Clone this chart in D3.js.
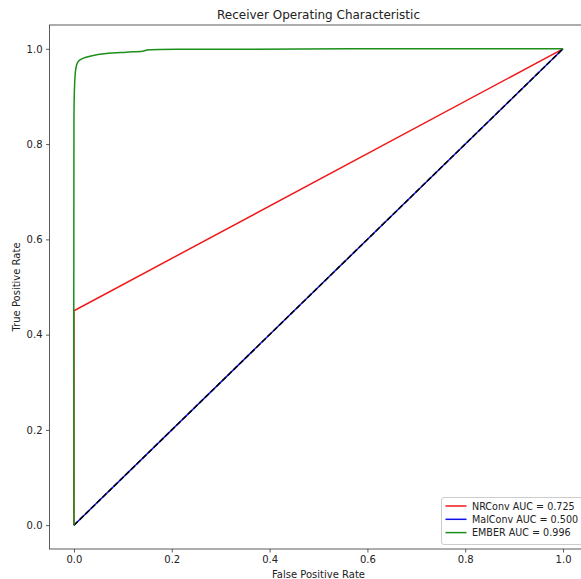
<!DOCTYPE html>
<html>
<head>
<meta charset="utf-8">
<script src="https://cdn.jsdelivr.net/npm/d3@7"></script>
<style>
  body { margin: 0; background: #fff; }
  text { font-family: "DejaVu Sans", sans-serif; fill: #222; }
</style>
</head>
<body>
<svg id="roc" width="581" height="579"></svg>
<script>
// ROC curve data
const nrconvFpr = [0, 0, 1];
const nrconvTpr = [0, 0.45, 1];

const malconvFpr = [0, 1];
const malconvTpr = [0, 1];

const emberFpr = [0, 0, 0.001, 0.003, 0.006, 0.01, 0.018, 0.035, 0.066, 0.107, 0.14, 0.154, 0.3, 0.6, 1];
const emberTpr = [0, 0.85, 0.915, 0.952, 0.968, 0.975, 0.980, 0.985, 0.990, 0.993, 0.995, 0.998, 0.999, 1.0, 1.0];

const seriesNames = ["NRConv AUC = 0.725", "MalConv AUC = 0.500", "EMBER AUC = 0.996"];
const seriesColors = ["#f01818", "#1010e8", "#1a8f1a"];

const tickValues = [0, 0.2, 0.4, 0.6, 0.8, 1.0];

// ************************************
// Layout
// ************************************
const svg = d3.select("#roc");

const plotLeft = 49.5, plotRight = 587.5, plotTop = 25, plotBottom = 549;

const x = d3.scaleLinear().domain([-0.05, 1.05]).range([plotLeft, plotRight]);
const y = d3.scaleLinear().domain([-0.05, 1.05]).range([plotBottom, plotTop]);

svg.append("defs").append("clipPath").attr("id", "plotClip")
  .append("rect")
    .attr("x", plotLeft).attr("y", plotTop)
    .attr("width", plotRight - plotLeft).attr("height", plotBottom - plotTop);

// Axes
const xAxis = svg.append("g")
    .attr("class", "x axis")
    .attr("transform", `translate(0,${plotBottom})`)
    .call(d3.axisBottom(x).tickValues(tickValues).tickFormat(d3.format(".1f")).tickSize(3.5).tickPadding(3.5));

const yAxis = svg.append("g")
    .attr("class", "y axis")
    .attr("transform", `translate(${plotLeft},0)`)
    .call(d3.axisLeft(y).tickValues(tickValues).tickFormat(d3.format(".1f")).tickSize(3.5).tickPadding(3.5));

svg.selectAll(".axis .domain").remove();
svg.selectAll(".axis line").attr("stroke", "#333").attr("stroke-width", 0.8);
svg.selectAll(".axis text").style("font-size", "10px").style("fill", "#222");

// Spines
svg.append("rect")
    .attr("x", plotLeft).attr("y", plotTop)
    .attr("width", plotRight - plotLeft).attr("height", plotBottom - plotTop)
    .attr("fill", "none")
    .attr("stroke", "#333")
    .attr("stroke-width", 0.8);

// ************************************
// Curves
// ************************************
const plot = svg.append("g").attr("clip-path", "url(#plotClip)");

const line = d3.line()
    .x(d => x(d[0]))
    .y(d => y(d[1]));

const smooth = d3.line()
    .x(d => x(d[0]))
    .y(d => y(d[1]))
    .curve(d3.curveCatmullRom.alpha(0.5));

const zip = (a, b) => a.map((v, i) => [v, b[i]]);

plot.append("path")
    .datum(zip(nrconvFpr, nrconvTpr))
    .attr("fill", "none").attr("stroke", seriesColors[0]).attr("stroke-width", 1.5)
    .attr("d", line);

plot.append("path")
    .datum(zip(malconvFpr, malconvTpr))
    .attr("fill", "none").attr("stroke", seriesColors[1]).attr("stroke-width", 1.5)
    .attr("d", line);

// chance diagonal 'k--'
plot.append("path")
    .datum(zip(malconvFpr, malconvTpr))
    .attr("fill", "none").attr("stroke", "#000").attr("stroke-width", 1.5)
    .attr("stroke-dasharray", "5.55,2.4")
    .attr("d", line);

plot.append("path")
    .datum(zip(emberFpr, emberTpr))
    .attr("fill", "none").attr("stroke", seriesColors[2]).attr("stroke-width", 1.5)
    .attr("d", smooth);

// ************************************
// Labels
// ************************************
svg.append("text")
    .attr("x", (plotLeft + plotRight) / 2).attr("y", 19)
    .attr("text-anchor", "middle")
    .style("font-size", "12px")
    .text("Receiver Operating Characteristic");

svg.append("text")
    .attr("x", (plotLeft + plotRight) / 2).attr("y", 578)
    .attr("text-anchor", "middle")
    .style("font-size", "10px")
    .text("False Positive Rate");

svg.append("text")
    .attr("transform", `translate(20,${(plotTop + plotBottom) / 2}) rotate(-90)`)
    .attr("text-anchor", "middle")
    .style("font-size", "10px")
    .text("True Positive Rate");

// ************************************
// Legend
// ************************************
const legend = svg.append("g").attr("transform", "translate(441.5,497.5)");

legend.append("rect")
    .attr("width", 141).attr("height", 47)
    .attr("rx", 2.5)
    .attr("fill", "#fff").attr("fill-opacity", 0.8)
    .attr("stroke", "#ccc").attr("stroke-width", 1);

seriesNames.forEach((name, i) => {
  const row = legend.append("g").attr("transform", `translate(0,${8.5 + i * 13.3})`);
  row.append("line")
      .attr("x1", 4).attr("x2", 25)
      .attr("stroke", seriesColors[i]).attr("stroke-width", 1.5);
  row.append("text")
      .attr("x", 30.5).attr("y", 3.5)
      .style("font-size", "9.6px")
      .text(name);
});
</script>
</body>
</html>
